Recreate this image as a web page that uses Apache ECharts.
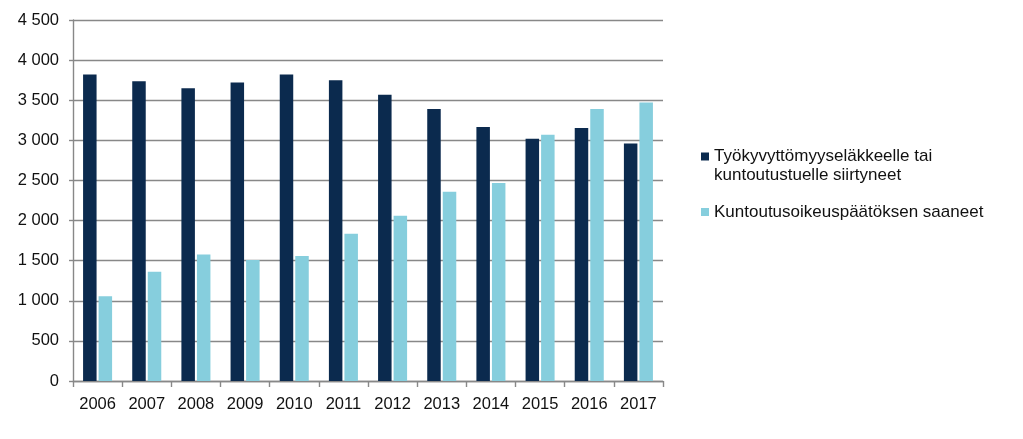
<!DOCTYPE html>
<html>
<head>
<meta charset="utf-8">
<script src="https://cdn.jsdelivr.net/npm/echarts@6/dist/echarts.min.js"></script>
<style>
html,body{margin:0;padding:0;background:#fff;}
#chart{width:1023px;height:439px;}
</style>
</head>
<body>
<div id="chart"></div>
<script>
const categories = ['2006','2007','2008','2009','2010','2011','2012','2013','2014','2015','2016','2017'];
const seriesNames = ['Työkyvyttömyyseläkkeelle tai\nkuntoutustuelle siirtyneet', 'Kuntoutusoikeuspäätöksen saaneet'];
const disabilityPension = [3820, 3735, 3650, 3720, 3820, 3750, 3567, 3392, 3167, 3021, 3155, 2959];
const rehabDecision = [1057, 1361, 1578, 1507, 1557, 1835, 2060, 2360, 2468, 3071, 3392, 3471];
const yTicks = [0, 500, 1000, 1500, 2000, 2500, 3000, 3500, 4000, 4500];

const chart = echarts.init(document.getElementById('chart'), null, {renderer: 'canvas'});
const fmt = v => {
  const s = String(v);
  return s.length > 3 ? s.slice(0, s.length - 3) + ' ' + s.slice(-3) : s;
};
const gridColor = '#888888';
const font = 'Liberation Sans, Arial, sans-serif';
chart.setOption({
  animation: false,
  backgroundColor: '#ffffff',
  grid: {left: 73, right: 360, top: 20, bottom: 58, containLabel: false},
  legend: {
    orient: 'vertical',
    left: 701,
    top: 128,
    padding: 0,
    itemWidth: 8,
    itemHeight: 8,
    itemGap: 17.5,
    icon: 'rect',
    textStyle: {fontFamily: font, fontSize: 17, color: '#111', lineHeight: 19},
    formatter: name => name.indexOf('\n') >= 0 ? ' \n' + name : name,
    data: seriesNames
  },
  xAxis: {
    type: 'category',
    data: categories,
    boundaryGap: true,
    axisLine: {lineStyle: {color: gridColor, width: 1.4}},
    axisTick: {show: true, length: 6, lineStyle: {color: gridColor, width: 1.4}},
    axisLabel: {fontFamily: font, fontSize: 16.5, color: '#111', margin: 15}
  },
  yAxis: {
    type: 'value',
    min: yTicks[0],
    max: yTicks[yTicks.length - 1],
    interval: 500,
    axisLine: {show: true, lineStyle: {color: gridColor, width: 1.4}},
    axisTick: {show: true, length: 4, lineStyle: {color: gridColor, width: 1.4}},
    splitLine: {lineStyle: {color: gridColor, width: 1.4}},
    axisLabel: {fontFamily: font, fontSize: 16.5, color: '#111', margin: 14, formatter: fmt}
  },
  series: [
    {
      name: seriesNames[0],
      type: 'bar',
      data: disabilityPension,
      barWidth: 13.5,
      barGap: '15%',
      itemStyle: {color: '#0B2A4E'}
    },
    {
      name: seriesNames[1],
      type: 'bar',
      data: rehabDecision,
      barWidth: 13.5,
      itemStyle: {color: '#86CEDD'}
    }
  ]
});
</script>
</body>
</html>
